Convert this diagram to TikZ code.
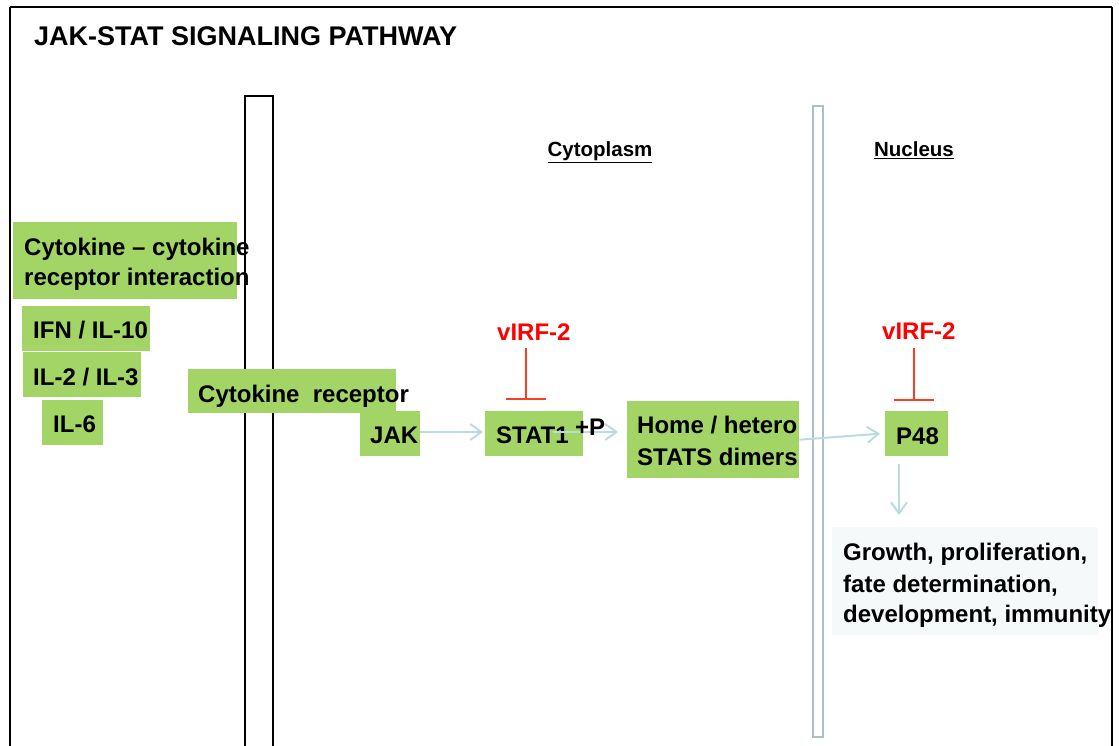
\documentclass[tikz,border=0pt]{standalone}
\usepackage{fontspec}
\setmainfont{Liberation Sans}
\usetikzlibrary{arrows.meta,calc}
\definecolor{gfill}{RGB}{162,213,101}
\definecolor{arrc}{RGB}{185,220,225}
\definecolor{membc}{RGB}{170,192,196}
\definecolor{redtxt}{RGB}{255,0,0}
\definecolor{inhc}{RGB}{255,60,30}
\definecolor{outfill}{RGB}{245,249,250}
\begin{document}
\begin{tikzpicture}[x=1pt,y=-1pt,
  gbox/.style={fill=gfill,draw=none,inner sep=0pt,anchor=north west},
  txt/.style={font=\fontsize{24}{30}\selectfont\bfseries,anchor=base west,inner sep=0pt},
  ttl/.style={font=\fontsize{27}{30}\selectfont\bfseries,anchor=base west,inner sep=0pt},
  hdr/.style={font=\fontsize{20.5}{24}\selectfont\bfseries,anchor=base,inner sep=0pt},
  redlab/.style={txt,text=redtxt},
  arr/.style={draw=arrc,line width=2pt,-{Straight Barb[length=11pt,width=16pt]}},
  inh/.style={draw=inhc,line width=1.8pt,-{Bar[width=40pt]}}]
\useasboundingbox (0,0) rectangle (1119,746);
\fill[white] (0,0) rectangle (1119,746);
% frame and membranes
\draw[line width=1.5pt] (10,7) -- (1112,7);
\draw[line width=1.5pt] (10,7) -- (10,760);
\draw[line width=1.5pt] (1112,7) -- (1112,760);
\draw[line width=1.5pt] (245,96) rectangle (273,770);
\draw[draw=membc,line width=2pt] (813,106) rectangle (823,737);
% title and headers
\node[ttl] (title) at (34,46) {JAK-STAT SIGNALING PATHWAY};
\node[hdr] (cyto) at (600,157) {\underline{Cytoplasm}};
\node[hdr] (nuc) at (914,157) {\underline{Nucleus}};
% green boxes
\node[gbox,minimum width=224pt,minimum height=77pt] (cci) at (13,222) {};
\node[txt] at (24,255) {Cytokine – cytokine};
\node[txt] at (24,285) {receptor interaction};
\node[gbox,minimum width=128pt,minimum height=45pt] (ifn) at (22,306) {};
\node[txt] at (33,338) {IFN / IL-10};
\node[gbox,minimum width=118pt,minimum height=45pt] (il2) at (23,352) {};
\node[txt] at (33,385) {IL-2 / IL-3};
\node[gbox,minimum width=61pt,minimum height=45pt] (il6) at (42,400) {};
\node[txt] at (53,432) {IL-6};
\node[gbox,minimum width=208pt,minimum height=44pt] (rec) at (188,369) {};
\node[txt] at (198,402) {Cytokine\ \ receptor};
\node[gbox,minimum width=60pt,minimum height=45pt] (jak) at (360,411) {};
\node[txt] at (370,443) {JAK};
\node[gbox,minimum width=98pt,minimum height=45pt] (stat) at (485,411) {};
\node[txt] at (496,443) {STAT1};
\node[gbox,minimum width=172pt,minimum height=77pt] (dim) at (627,401) {};
\node[txt] at (637,433) {Home / hetero};
\node[txt] at (637,465) {STATS dimers};
\node[gbox,minimum width=63pt,minimum height=45pt] (p48) at (885,411) {};
\node[txt] at (896,444) {P48};
% output box
\node[fill=outfill,draw=none,inner sep=0pt,anchor=north west,minimum width=266pt,minimum height=108pt] (out) at (832,527) {};
\node[txt] at (843,560) {Growth, proliferation,};
\node[txt] at (843,592) {fate determination,};
\node[txt] at (843,622) {development, immunity};
% arrows
\draw[arr] (jak.east |- 0,432) -- ($(stat.west |- 0,432)+(-2,0)$);
\draw[arr] ($(stat.east |- 0,432)+(-30,0)$) -- ($(dim.west |- 0,432)+(-9,0)$);
\node[txt] (plusp) at (575,435) {+P};
\draw[arr] (dim.east) -- ($(p48.west)+(-5,0)$);
\coordinate (p48b) at (899,464);
\coordinate (outt) at (899,515);
\draw[arr] (p48b) -- (outt);
% inhibitions
\node[redlab] (v1) at (497,340) {vIRF-2};
\node[redlab] (v2) at (882,339) {vIRF-2};
\coordinate (i1a) at (526,348);
\coordinate (i1b) at (526,400);
\coordinate (i2a) at (914,348);
\coordinate (i2b) at (914,401);
\draw[inh] (i1a) -- (i1b);
\draw[inh] (i2a) -- (i2b);
\end{tikzpicture}
\end{document}
